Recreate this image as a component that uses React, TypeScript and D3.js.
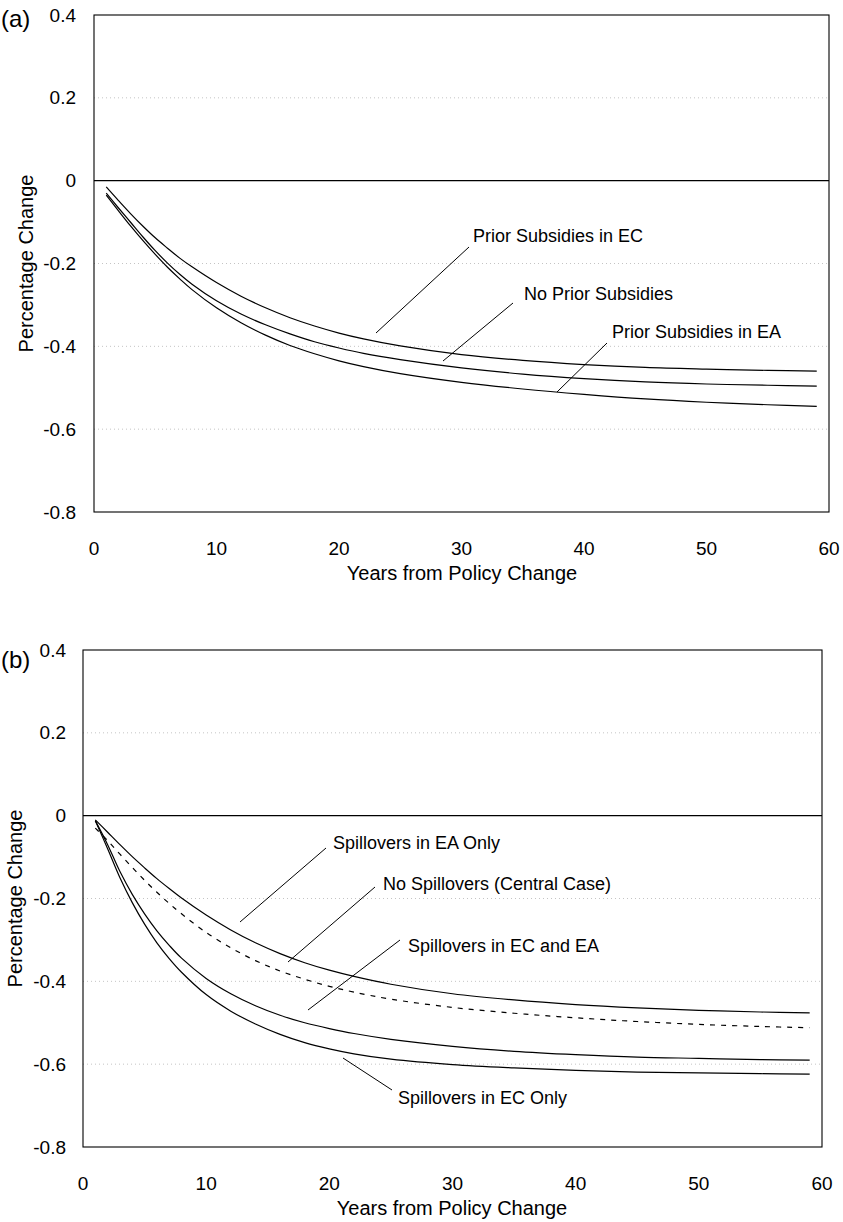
import React from "react";
import * as d3 from "d3";

const years = [1, 2, 3, 4, 5, 6, 7, 8, 10, 12, 14, 16, 18, 20, 22, 25, 30, 35, 40, 45, 50, 55, 59];

// Panel (a)
const priorEC = [-0.015, -0.048, -0.08, -0.11, -0.138, -0.163, -0.187, -0.208, -0.246, -0.279, -0.307, -0.331, -0.351, -0.368, -0.382, -0.399, -0.42, -0.434, -0.444, -0.451, -0.455, -0.458, -0.46];
const noPrior = [-0.03, -0.066, -0.101, -0.136, -0.169, -0.199, -0.226, -0.25, -0.29, -0.322, -0.348, -0.37, -0.389, -0.404, -0.417, -0.432, -0.452, -0.467, -0.478, -0.486, -0.491, -0.494, -0.496];
const priorEA = [-0.035, -0.073, -0.11, -0.145, -0.178, -0.209, -0.237, -0.263, -0.307, -0.343, -0.373, -0.398, -0.418, -0.435, -0.449, -0.466, -0.487, -0.503, -0.516, -0.527, -0.535, -0.541, -0.545];

// Panel (b)
const spillEAOnly = [-0.01, -0.04, -0.07, -0.099, -0.126, -0.152, -0.176, -0.199, -0.24, -0.276, -0.307, -0.333, -0.355, -0.373, -0.388, -0.407, -0.43, -0.445, -0.456, -0.464, -0.47, -0.474, -0.476];
const noSpill = [-0.03, -0.06, -0.093, -0.125, -0.156, -0.185, -0.212, -0.237, -0.282, -0.319, -0.35, -0.375, -0.395, -0.412, -0.426, -0.443, -0.463, -0.477, -0.488, -0.497, -0.504, -0.509, -0.512];
const spillECEA = [-0.012, -0.07, -0.135, -0.19, -0.237, -0.278, -0.313, -0.344, -0.393, -0.43, -0.459, -0.482, -0.5, -0.514, -0.526, -0.54, -0.557, -0.569, -0.577, -0.583, -0.586, -0.589, -0.59];
const spillECOnly = [-0.012, -0.08, -0.15, -0.21, -0.262, -0.307, -0.345, -0.378, -0.432, -0.472, -0.503, -0.528, -0.548, -0.563, -0.575, -0.588, -0.601, -0.609, -0.615, -0.619, -0.621, -0.623, -0.624];

const yTicks = [0.4, 0.2, 0, -0.2, -0.4, -0.6, -0.8];
const yTickLabels = ["0.4", "0.2", "0", "-0.2", "-0.4", "-0.6", "-0.8"];
const xTicks = [0, 10, 20, 30, 40, 50, 60];
const xTickLabels = ["0", "10", "20", "30", "40", "50", "60"];
const gridValues = [0.2, -0.2, -0.4, -0.6];

const labelsA = ["Prior Subsidies in EC", "No Prior Subsidies", "Prior Subsidies in EA"];
const labelsB = ["Spillovers in EA Only", "No Spillovers (Central Case)", "Spillovers in EC and EA", "Spillovers in EC Only"];

const FONT = "'Liberation Sans', Arial, sans-serif";

type Series = { values: number[]; dashed?: boolean };
type Note = { text: string; x1: number; y1: number; x2: number; y2: number; tx: number; ty: number };

function Panel(props: {
  tag: string;
  left: number; right: number; top: number; bottom: number;
  series: Series[];
  notes: Note[];
  tagY: number;
  yLabelRight: number;
  yTitleX: number;
  xLabelY: number;
  xTitleY: number;
  xTitleX: number;
}) {
  const { left, right, top, bottom } = props;
  const x = d3.scaleLinear().domain([0, 60]).range([left, right]);
  const y = d3.scaleLinear().domain([-0.8, 0.4]).range([bottom, top]);
  const line = d3
    .line<number>()
    .x((_, i) => x(years[i]))
    .y((d) => y(d))
    .curve(d3.curveCatmullRom.alpha(0.5));
  return (
    <g>
      <text x={1} y={props.tagY} fontFamily={FONT} fontSize={24} fill="#000">{props.tag}</text>
      {gridValues.map((g) => (
        <line key={g} x1={left} x2={right} y1={y(g)} y2={y(g)} stroke="#c4c4c4" strokeWidth={1} strokeDasharray="1,3" />
      ))}
      <line x1={left} x2={right} y1={y(0)} y2={y(0)} stroke="#000" strokeWidth={1.2} />
      <rect x={left} y={top} width={right - left} height={bottom - top} fill="none" stroke="#000" strokeWidth={1.1} />
      {props.series.map((s, i) => (
        <path key={i} d={line(s.values) || ""} fill="none" stroke="#000" strokeWidth={1.2} strokeDasharray={s.dashed ? "5,6" : undefined} />
      ))}
      {yTicks.map((t, i) => (
        <text key={t} x={props.yLabelRight} y={y(t)} dy="0.35em" textAnchor="end" fontFamily={FONT} fontSize={19} fill="#000">
          {yTickLabels[i]}
        </text>
      ))}
      {xTicks.map((t, i) => (
        <text key={t} x={x(t)} y={props.xLabelY} textAnchor="middle" fontFamily={FONT} fontSize={19} fill="#000">
          {xTickLabels[i]}
        </text>
      ))}
      <text x={props.xTitleX} y={props.xTitleY} textAnchor="middle" fontFamily={FONT} fontSize={20} fill="#000">
        Years from Policy Change
      </text>
      <text
        transform={`translate(${props.yTitleX},${(top + bottom) / 2}) rotate(-90)`}
        textAnchor="middle"
        fontFamily={FONT}
        fontSize={20}
        fill="#000"
      >
        Percentage Change
      </text>
      {props.notes.map((n, i) => (
        <g key={i}>
          <line x1={n.x1} y1={n.y1} x2={n.x2} y2={n.y2} stroke="#000" strokeWidth={1} />
          <text x={n.tx} y={n.ty} dy="0.35em" fontFamily={FONT} fontSize={18} fill="#000">{n.text}</text>
        </g>
      ))}
    </g>
  );
}

export default function App() {
  return (
    <svg
      width={843}
      height={1222}
      style={{ position: "absolute", left: 0, top: 0, background: "#fff" }}
    >
      <rect width={843} height={1222} fill="#fff" />
      <Panel
        tag="(a)"
        tagY={27}
        left={94}
        right={829}
        top={15}
        bottom={512}
        series={[{ values: priorEC }, { values: noPrior }, { values: priorEA }]}
        notes={[
          { text: labelsA[0], x1: 376, y1: 333, x2: 469, y2: 247, tx: 473, ty: 236 },
          { text: labelsA[1], x1: 443, y1: 361, x2: 513, y2: 303, tx: 524, ty: 294 },
          { text: labelsA[2], x1: 557, y1: 392, x2: 607, y2: 343, tx: 612, ty: 332 },
        ]}
        yLabelRight={76}
        yTitleX={33}
        xLabelY={555}
        xTitleY={580}
        xTitleX={462}
      />
      <Panel
        tag="(b)"
        tagY={668}
        left={83}
        right={822}
        top={650}
        bottom={1147}
        series={[
          { values: spillEAOnly },
          { values: noSpill, dashed: true },
          { values: spillECEA },
          { values: spillECOnly },
        ]}
        notes={[
          { text: labelsB[0], x1: 240, y1: 922, x2: 326, y2: 848, tx: 333, ty: 843 },
          { text: labelsB[1], x1: 288, y1: 962, x2: 375, y2: 887, tx: 383, ty: 884 },
          { text: labelsB[2], x1: 308, y1: 1010, x2: 400, y2: 940, tx: 408, ty: 946 },
          { text: labelsB[3], x1: 343, y1: 1058, x2: 392, y2: 1090, tx: 398, ty: 1098 },
        ]}
        yLabelRight={66}
        yTitleX={22}
        xLabelY={1190}
        xTitleY={1215}
        xTitleX={452}
      />
    </svg>
  );
}
